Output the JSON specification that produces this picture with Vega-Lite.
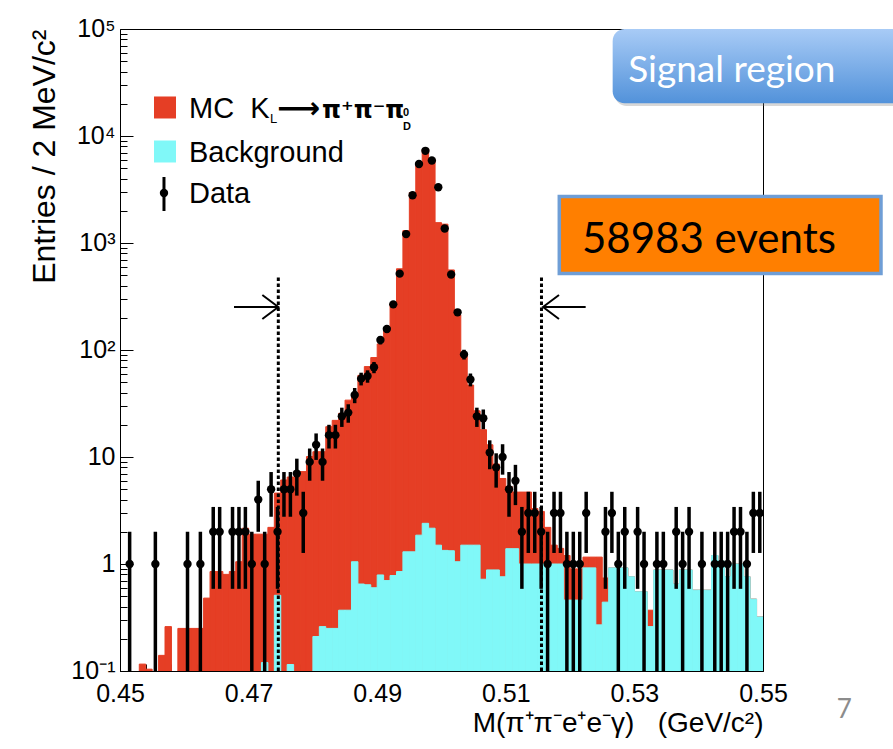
{
  "$schema": "https://vega.github.io/schema/vega-lite/v6.json",
  "width": 643,
  "height": 642,
  "autosize": {"type": "none"},
  "padding": {"left": 120, "top": 29, "right": 130, "bottom": 78},
  "background": "white",
  "view": {"stroke": "black", "strokeWidth": 1},
  "config": {
    "axis": {"grid": false, "domainColor": "black", "tickColor": "black", "labelColor": "black", "titleColor": "black", "labelFont": "Liberation Sans", "titleFont": "Liberation Sans", "titleFontWeight": "normal", "labelOverlap": false, "labelFlush": false, "labelBound": false}
  },
  "resolve": {"axis": {"x": "independent", "y": "independent"}},
  "datasets": {
    "bins": [
      {"lo":0.450,"hi":0.451,"m":0.4505,"mc":0,"bkg":0,"n":0,"elo":null,"ehi":null},
      {"lo":0.451,"hi":0.452,"m":0.4515,"mc":0,"bkg":0,"n":1,"elo":0.001,"ehi":2},
      {"lo":0.452,"hi":0.453,"m":0.4525,"mc":0,"bkg":0,"n":0,"elo":null,"ehi":null},
      {"lo":0.453,"hi":0.454,"m":0.4535,"mc":0.116,"bkg":0,"n":0,"elo":null,"ehi":null},
      {"lo":0.454,"hi":0.455,"m":0.4545,"mc":0.104,"bkg":0,"n":0,"elo":null,"ehi":null},
      {"lo":0.455,"hi":0.456,"m":0.4555,"mc":0,"bkg":0,"n":1,"elo":0.001,"ehi":2},
      {"lo":0.456,"hi":0.457,"m":0.4565,"mc":0.14,"bkg":0,"n":0,"elo":null,"ehi":null},
      {"lo":0.457,"hi":0.458,"m":0.4575,"mc":0.26,"bkg":0,"n":0,"elo":null,"ehi":null},
      {"lo":0.458,"hi":0.459,"m":0.4585,"mc":0,"bkg":0,"n":0,"elo":null,"ehi":null},
      {"lo":0.459,"hi":0.460,"m":0.4595,"mc":0.25,"bkg":0,"n":0,"elo":null,"ehi":null},
      {"lo":0.460,"hi":0.461,"m":0.4605,"mc":0.25,"bkg":0,"n":1,"elo":0.001,"ehi":2},
      {"lo":0.461,"hi":0.462,"m":0.4615,"mc":0.25,"bkg":0,"n":0,"elo":null,"ehi":null},
      {"lo":0.462,"hi":0.463,"m":0.4625,"mc":0.25,"bkg":0,"n":1,"elo":0.001,"ehi":2},
      {"lo":0.463,"hi":0.464,"m":0.4635,"mc":0.48,"bkg":0,"n":0,"elo":null,"ehi":null},
      {"lo":0.464,"hi":0.465,"m":0.4645,"mc":0.85,"bkg":0,"n":2,"elo":0.586,"ehi":3.414},
      {"lo":0.465,"hi":0.466,"m":0.4655,"mc":0.85,"bkg":0,"n":2,"elo":0.586,"ehi":3.414},
      {"lo":0.466,"hi":0.467,"m":0.4665,"mc":0.80,"bkg":0,"n":0,"elo":null,"ehi":null},
      {"lo":0.467,"hi":0.468,"m":0.4675,"mc":0.85,"bkg":0,"n":2,"elo":0.586,"ehi":3.414},
      {"lo":0.468,"hi":0.469,"m":0.4685,"mc":1.05,"bkg":0,"n":2,"elo":0.586,"ehi":3.414},
      {"lo":0.469,"hi":0.470,"m":0.4695,"mc":2.16,"bkg":0,"n":2,"elo":0.586,"ehi":3.414},
      {"lo":0.470,"hi":0.471,"m":0.4705,"mc":1.9,"bkg":0,"n":1,"elo":0.001,"ehi":2},
      {"lo":0.471,"hi":0.472,"m":0.4715,"mc":1.9,"bkg":0,"n":4,"elo":2,"ehi":6},
      {"lo":0.472,"hi":0.473,"m":0.4725,"mc":1.9,"bkg":0.12,"n":1,"elo":0.001,"ehi":2},
      {"lo":0.473,"hi":0.474,"m":0.4735,"mc":2.2,"bkg":0,"n":5,"elo":2.764,"ehi":7.236},
      {"lo":0.474,"hi":0.475,"m":0.4745,"mc":4.6,"bkg":0.51,"n":2,"elo":0.586,"ehi":3.414},
      {"lo":0.475,"hi":0.476,"m":0.4755,"mc":6.1,"bkg":0,"n":5,"elo":2.764,"ehi":7.236},
      {"lo":0.476,"hi":0.477,"m":0.4765,"mc":6.5,"bkg":0.115,"n":5,"elo":2.764,"ehi":7.236},
      {"lo":0.477,"hi":0.478,"m":0.4775,"mc":6.5,"bkg":0,"n":7,"elo":4.354,"ehi":9.646},
      {"lo":0.478,"hi":0.479,"m":0.4785,"mc":7.3,"bkg":0,"n":3,"elo":1.268,"ehi":4.732},
      {"lo":0.479,"hi":0.480,"m":0.4795,"mc":10.1,"bkg":0,"n":9,"elo":6,"ehi":12},
      {"lo":0.480,"hi":0.481,"m":0.4805,"mc":11.2,"bkg":0.21,"n":13,"elo":9.394,"ehi":16.606},
      {"lo":0.481,"hi":0.482,"m":0.4815,"mc":11.2,"bkg":0.26,"n":9,"elo":6,"ehi":12},
      {"lo":0.482,"hi":0.483,"m":0.4825,"mc":19.2,"bkg":0.25,"n":16,"elo":12,"ehi":20},
      {"lo":0.483,"hi":0.484,"m":0.4835,"mc":22,"bkg":0.25,"n":16,"elo":12,"ehi":20},
      {"lo":0.484,"hi":0.485,"m":0.4845,"mc":25.6,"bkg":0.37,"n":24,"elo":19.101,"ehi":28.899},
      {"lo":0.485,"hi":0.486,"m":0.4855,"mc":34,"bkg":0.37,"n":26,"elo":20.901,"ehi":31.099},
      {"lo":0.486,"hi":0.487,"m":0.4865,"mc":39,"bkg":1.05,"n":38,"elo":31.836,"ehi":44.164},
      {"lo":0.487,"hi":0.488,"m":0.4875,"mc":58,"bkg":0.65,"n":54,"elo":46.652,"ehi":61.348},
      {"lo":0.488,"hi":0.489,"m":0.4885,"mc":70,"bkg":0.64,"n":57,"elo":49.45,"ehi":64.55},
      {"lo":0.489,"hi":0.490,"m":0.4895,"mc":85,"bkg":0.6,"n":69,"elo":60.693,"ehi":77.307},
      {"lo":0.490,"hi":0.491,"m":0.4905,"mc":114,"bkg":0.79,"n":124,"elo":112.864,"ehi":135.136},
      {"lo":0.491,"hi":0.492,"m":0.4915,"mc":161,"bkg":0.7,"n":157,"elo":144.47,"ehi":169.53},
      {"lo":0.492,"hi":0.493,"m":0.4925,"mc":272,"bkg":0.78,"n":267,"elo":250.66,"ehi":283.34},
      {"lo":0.493,"hi":0.494,"m":0.4935,"mc":574,"bkg":0.85,"n":517,"elo":494.26,"ehi":539.74},
      {"lo":0.494,"hi":0.495,"m":0.4945,"mc":1306,"bkg":1.3,"n":1211,"elo":1176.2,"ehi":1245.8},
      {"lo":0.495,"hi":0.496,"m":0.4955,"mc":2965,"bkg":1.3,"n":2797,"elo":2744.11,"ehi":2849.89},
      {"lo":0.496,"hi":0.497,"m":0.4965,"mc":5475,"bkg":1.86,"n":5475,"elo":5401.01,"ehi":5548.99},
      {"lo":0.497,"hi":0.498,"m":0.4975,"mc":7560,"bkg":2.4,"n":7271,"elo":7185.73,"ehi":7356.27},
      {"lo":0.498,"hi":0.499,"m":0.4985,"mc":6030,"bkg":2.16,"n":5902,"elo":5825.18,"ehi":5978.82},
      {"lo":0.499,"hi":0.500,"m":0.4995,"mc":1550,"bkg":1.5,"n":3316,"elo":3258.42,"ehi":3373.58},
      {"lo":0.500,"hi":0.501,"m":0.5005,"mc":1500,"bkg":1.34,"n":1367,"elo":1330.03,"ehi":1403.97},
      {"lo":0.501,"hi":0.502,"m":0.5015,"mc":560,"bkg":1.33,"n":508,"elo":485.46,"ehi":530.54},
      {"lo":0.502,"hi":0.503,"m":0.5025,"mc":213,"bkg":1.05,"n":225,"elo":210,"ehi":240},
      {"lo":0.503,"hi":0.504,"m":0.5035,"mc":93,"bkg":1.5,"n":91,"elo":81.461,"ehi":100.539},
      {"lo":0.504,"hi":0.505,"m":0.5045,"mc":47,"bkg":1.5,"n":53,"elo":45.72,"ehi":60.28},
      {"lo":0.505,"hi":0.506,"m":0.5055,"mc":27,"bkg":1.5,"n":24,"elo":19.101,"ehi":28.899},
      {"lo":0.506,"hi":0.507,"m":0.5065,"mc":18,"bkg":0.72,"n":23,"elo":18.204,"ehi":27.796},
      {"lo":0.507,"hi":0.508,"m":0.5075,"mc":13,"bkg":0.88,"n":11,"elo":7.683,"ehi":14.317},
      {"lo":0.508,"hi":0.509,"m":0.5085,"mc":8.6,"bkg":0.88,"n":8,"elo":5.172,"ehi":10.828},
      {"lo":0.509,"hi":0.510,"m":0.5095,"mc":6.3,"bkg":0.76,"n":10,"elo":6.838,"ehi":13.162},
      {"lo":0.510,"hi":0.511,"m":0.5105,"mc":5.3,"bkg":1.39,"n":5,"elo":2.764,"ehi":7.236},
      {"lo":0.511,"hi":0.512,"m":0.5115,"mc":4.7,"bkg":1.39,"n":6,"elo":3.551,"ehi":8.449},
      {"lo":0.512,"hi":0.513,"m":0.5125,"mc":4.7,"bkg":1.0,"n":2,"elo":0.586,"ehi":3.414},
      {"lo":0.513,"hi":0.514,"m":0.5135,"mc":4.7,"bkg":1.0,"n":3,"elo":1.268,"ehi":4.732},
      {"lo":0.514,"hi":0.515,"m":0.5145,"mc":3.3,"bkg":1.0,"n":3,"elo":1.268,"ehi":4.732},
      {"lo":0.515,"hi":0.516,"m":0.5155,"mc":3.1,"bkg":1.0,"n":2,"elo":0.586,"ehi":3.414},
      {"lo":0.516,"hi":0.517,"m":0.5165,"mc":2.2,"bkg":1.0,"n":1,"elo":0.001,"ehi":2},
      {"lo":0.517,"hi":0.518,"m":0.5175,"mc":1.5,"bkg":1.0,"n":3,"elo":1.268,"ehi":4.732},
      {"lo":0.518,"hi":0.519,"m":0.5185,"mc":1.4,"bkg":1.0,"n":3,"elo":1.268,"ehi":4.732},
      {"lo":0.519,"hi":0.520,"m":0.5195,"mc":1.2,"bkg":0.46,"n":1,"elo":0.001,"ehi":2},
      {"lo":0.520,"hi":0.521,"m":0.5205,"mc":0.9,"bkg":0.46,"n":1,"elo":0.001,"ehi":2},
      {"lo":0.521,"hi":0.522,"m":0.5215,"mc":0.9,"bkg":0.46,"n":1,"elo":0.001,"ehi":2},
      {"lo":0.522,"hi":0.523,"m":0.5225,"mc":1.16,"bkg":0.92,"n":3,"elo":1.268,"ehi":4.732},
      {"lo":0.523,"hi":0.524,"m":0.5235,"mc":1.16,"bkg":0.92,"n":0,"elo":null,"ehi":null},
      {"lo":0.524,"hi":0.525,"m":0.5245,"mc":1.16,"bkg":0.27,"n":0,"elo":null,"ehi":null},
      {"lo":0.525,"hi":0.526,"m":0.5255,"mc":0.74,"bkg":0.44,"n":2,"elo":0.586,"ehi":3.414},
      {"lo":0.526,"hi":0.527,"m":0.5265,"mc":0.92,"bkg":0.92,"n":3,"elo":1.268,"ehi":4.732},
      {"lo":0.527,"hi":0.528,"m":0.5275,"mc":0.92,"bkg":0.92,"n":1,"elo":0.001,"ehi":2},
      {"lo":0.528,"hi":0.529,"m":0.5285,"mc":0.92,"bkg":0.92,"n":2,"elo":0.586,"ehi":3.414},
      {"lo":0.529,"hi":0.530,"m":0.5295,"mc":0.76,"bkg":0.76,"n":0,"elo":null,"ehi":null},
      {"lo":0.530,"hi":0.531,"m":0.5305,"mc":0.55,"bkg":0.55,"n":2,"elo":0.586,"ehi":3.414},
      {"lo":0.531,"hi":0.532,"m":0.5315,"mc":0.55,"bkg":0.55,"n":1,"elo":0.001,"ehi":2},
      {"lo":0.532,"hi":0.533,"m":0.5325,"mc":0.37,"bkg":0.26,"n":0,"elo":null,"ehi":null},
      {"lo":0.533,"hi":0.534,"m":0.5335,"mc":0.88,"bkg":0.88,"n":1,"elo":0.001,"ehi":2},
      {"lo":0.534,"hi":0.535,"m":0.5345,"mc":0.88,"bkg":0.88,"n":1,"elo":0.001,"ehi":2},
      {"lo":0.535,"hi":0.536,"m":0.5355,"mc":0.88,"bkg":0.88,"n":0,"elo":null,"ehi":null},
      {"lo":0.536,"hi":0.537,"m":0.5365,"mc":0.65,"bkg":0.65,"n":2,"elo":0.586,"ehi":3.414},
      {"lo":0.537,"hi":0.538,"m":0.5375,"mc":0.88,"bkg":0.88,"n":1,"elo":0.001,"ehi":2},
      {"lo":0.538,"hi":0.539,"m":0.5385,"mc":0.88,"bkg":0.88,"n":2,"elo":0.586,"ehi":3.414},
      {"lo":0.539,"hi":0.540,"m":0.5395,"mc":0.57,"bkg":0.57,"n":0,"elo":null,"ehi":null},
      {"lo":0.540,"hi":0.541,"m":0.5405,"mc":0.57,"bkg":0.57,"n":1,"elo":0.001,"ehi":2},
      {"lo":0.541,"hi":0.542,"m":0.5415,"mc":0.57,"bkg":0.57,"n":0,"elo":null,"ehi":null},
      {"lo":0.542,"hi":0.543,"m":0.5425,"mc":1.2,"bkg":1.2,"n":1,"elo":0.001,"ehi":2},
      {"lo":0.543,"hi":0.544,"m":0.5435,"mc":1.07,"bkg":1.07,"n":1,"elo":0.001,"ehi":2},
      {"lo":0.544,"hi":0.545,"m":0.5445,"mc":0.76,"bkg":0.76,"n":1,"elo":0.001,"ehi":2},
      {"lo":0.545,"hi":0.546,"m":0.5455,"mc":1.0,"bkg":1.0,"n":2,"elo":0.586,"ehi":3.414},
      {"lo":0.546,"hi":0.547,"m":0.5465,"mc":1.0,"bkg":1.0,"n":2,"elo":0.586,"ehi":3.414},
      {"lo":0.547,"hi":0.548,"m":0.5475,"mc":0.76,"bkg":0.76,"n":1,"elo":0.001,"ehi":2},
      {"lo":0.548,"hi":0.549,"m":0.5485,"mc":0.47,"bkg":0.47,"n":3,"elo":1.268,"ehi":4.732},
      {"lo":0.549,"hi":0.550,"m":0.5495,"mc":0.32,"bkg":0.32,"n":3,"elo":1.268,"ehi":4.732}
    ]
  },
  "data": {"name": "bins"},
  "layer": [
    {
      "transform": [{"filter": "datum.mc > 0"}],
      "mark": {"type": "rect", "color": "#E53E25", "stroke": "#E53E25", "strokeWidth": 1, "clip": true},
      "encoding": {
        "x": {
          "field": "lo", "type": "quantitative",
          "scale": {"domain": [0.45, 0.55], "nice": false, "zero": false},
          "axis": {
            "orient": "bottom",
            "values": [0.45, 0.47, 0.49, 0.51, 0.53, 0.55],
            "format": ".2f",
            "tickSize": -13,
            "tickWidth": 1,
            "labelFontSize": 25,
            "labelPadding": 23,
            "title": "M(π⁺π⁻e⁺e⁻γ)\u00a0\u00a0\u00a0(GeV/c²)",
            "titleFontSize": 28,
            "titleAnchor": "end",
            "titleAlign": "right",
            "titlePadding": 3
          }
        },
        "x2": {"field": "hi"},
        "y": {
          "field": "mc", "type": "quantitative",
          "scale": {"type": "log", "domain": [0.1, 100000], "nice": false},
          "axis": {
            "orient": "left",
            "values": [0.1, 1, 10, 100, 1000, 10000, 100000],
            "labelExpr": "datum.value == 100000 ? '10⁵' : datum.value == 10000 ? '10⁴' : datum.value == 1000 ? '10³' : datum.value == 100 ? '10²' : datum.value == 10 ? '10' : datum.value == 1 ? '1' : '10⁻¹'",
            "tickSize": -13,
            "tickWidth": 1,
            "labelFontSize": 25,
            "labelPadding": 18,
            "labelOffset": -1,
            "title": "Entries / 2 MeV/c²",
            "titleFontSize": 32,
            "titleAnchor": "end",
            "titlePadding": 9
          }
        },
        "y2": {"datum": 0.1}
      }
    },
    {
      "transform": [{"filter": "datum.bkg > 0"}],
      "mark": {"type": "rect", "color": "#80F8F8", "stroke": "#80F8F8", "strokeWidth": 1, "clip": true},
      "encoding": {
        "x": {
          "field": "lo", "type": "quantitative",
          "axis": {
            "orient": "bottom",
            "values": [0.454, 0.458, 0.462, 0.466, 0.474, 0.478, 0.482, 0.486, 0.494, 0.498, 0.502, 0.506, 0.514, 0.518, 0.522, 0.526, 0.534, 0.538, 0.542, 0.546],
            "labels": false, "domain": false, "title": null,
            "tickSize": -7, "tickWidth": 1
          }
        },
        "x2": {"field": "hi"},
        "y": {
          "field": "bkg", "type": "quantitative",
          "axis": {
            "orient": "left",
            "values": [0.2, 0.3, 0.4, 0.5, 0.6, 0.7, 0.8, 0.9, 2, 3, 4, 5, 6, 7, 8, 9, 20, 30, 40, 50, 60, 70, 80, 90, 200, 300, 400, 500, 600, 700, 800, 900, 2000, 3000, 4000, 5000, 6000, 7000, 8000, 9000, 20000, 30000, 40000, 50000, 60000, 70000, 80000, 90000],
            "labels": false, "domain": false, "title": null,
            "tickSize": -7, "tickWidth": 1
          }
        },
        "y2": {"datum": 0.1}
      }
    },
    {
      "data": {"values": [{}]},
      "mark": {"type": "rule", "color": "black", "strokeWidth": 3, "strokeDash": [3.5, 2.5]},
      "encoding": {"x": {"datum": 0.47462, "axis": null}, "y": {"datum": 0.1, "axis": null}, "y2": {"datum": 502}}
    },
    {
      "data": {"values": [{}]},
      "mark": {"type": "rule", "color": "black", "strokeWidth": 3, "strokeDash": [3.5, 2.5]},
      "encoding": {"x": {"datum": 0.51555, "axis": null}, "y": {"datum": 0.1, "axis": null}, "y2": {"datum": 502}}
    },
    {
      "data": {"values": [{}]},
      "mark": {"type": "rule", "color": "black", "strokeWidth": 2},
      "encoding": {"x": {"datum": 0.46773, "axis": null}, "x2": {"datum": 0.47462}, "y": {"datum": 252.3, "axis": null}}
    },
    {
      "data": {"values": [{}]},
      "mark": {"type": "point", "shape": "M-1.33,-1L0,0L-1.33,1", "filled": false, "size": 576, "color": "black", "strokeWidth": 2, "opacity": 1},
      "encoding": {"x": {"datum": 0.47462, "axis": null}, "y": {"datum": 252.3, "axis": null}}
    },
    {
      "data": {"values": [{}]},
      "mark": {"type": "rule", "color": "black", "strokeWidth": 2},
      "encoding": {"x": {"datum": 0.51579, "axis": null}, "x2": {"datum": 0.52242}, "y": {"datum": 252.3, "axis": null}}
    },
    {
      "data": {"values": [{}]},
      "mark": {"type": "point", "shape": "M1.33,-1L0,0L1.33,1", "filled": false, "size": 576, "color": "black", "strokeWidth": 2, "opacity": 1},
      "encoding": {"x": {"datum": 0.51579, "axis": null}, "y": {"datum": 252.3, "axis": null}}
    },
    {
      "transform": [{"filter": "datum.n > 0"}],
      "mark": {"type": "rule", "color": "black", "strokeWidth": 3.5, "clip": true},
      "encoding": {
        "x": {"field": "m", "type": "quantitative", "axis": null},
        "y": {"field": "elo", "type": "quantitative", "axis": null},
        "y2": {"field": "ehi"}
      }
    },
    {
      "transform": [{"filter": "datum.n > 0"}],
      "mark": {"type": "circle", "color": "black", "size": 70, "opacity": 1, "clip": true},
      "encoding": {
        "x": {"field": "m", "type": "quantitative", "axis": null},
        "y": {"field": "n", "type": "quantitative", "axis": null}
      }
    },
    {
      "data": {"values": [{}]},
      "mark": {"type": "point", "shape": "square", "filled": true, "size": 484, "color": "#E53E25", "opacity": 1},
      "encoding": {"x": {"datum": 0.457, "axis": null}, "y": {"datum": 18470, "axis": null}}
    },
    {
      "data": {"values": [{}]},
      "mark": {"type": "point", "shape": "square", "filled": true, "size": 484, "color": "#80F8F8", "opacity": 1},
      "encoding": {"x": {"datum": 0.457, "axis": null}, "y": {"datum": 7164, "axis": null}}
    },
    {
      "data": {"values": [{}]},
      "mark": {"type": "rule", "color": "black", "strokeWidth": 3},
      "encoding": {"x": {"datum": 0.45684, "axis": null}, "y": {"datum": 1991, "axis": null}, "y2": {"datum": 4139}}
    },
    {
      "data": {"values": [{}]},
      "mark": {"type": "circle", "color": "black", "size": 70, "opacity": 1},
      "encoding": {"x": {"datum": 0.45684, "axis": null}, "y": {"datum": 2934, "axis": null}}
    },
    {
      "data": {"values": [{}]},
      "mark": {"type": "text", "text": "MC\u00a0\u00a0K", "font": "Liberation Sans", "fontSize": 29, "align": "left", "baseline": "alphabetic", "color": "black"},
      "encoding": {"x": {"datum": 0.46073, "axis": null}, "y": {"datum": 14637, "axis": null}}
    },
    {
      "data": {"values": [{}]},
      "mark": {"type": "text", "text": "L", "font": "Liberation Sans", "fontSize": 13, "align": "left", "baseline": "alphabetic", "color": "black"},
      "encoding": {"x": {"datum": 0.47333, "axis": null}, "y": {"datum": 13228, "axis": null}}
    },
    {
      "data": {"values": [{}]},
      "mark": {"type": "text", "text": "⟶", "font": "DejaVu Sans", "fontSize": 30, "fontWeight": "bold", "align": "left", "baseline": "alphabetic", "color": "black"},
      "encoding": {"x": {"datum": 0.47442, "axis": null}, "y": {"datum": 14637, "axis": null}}
    },
    {
      "data": {"values": [{}]},
      "mark": {"type": "text", "text": "π⁺π⁻π", "font": "DejaVu Sans", "fontSize": 24, "fontWeight": "bold", "align": "left", "baseline": "alphabetic", "color": "black"},
      "encoding": {"x": {"datum": 0.48142, "axis": null}, "y": {"datum": 14637, "axis": null}}
    },
    {
      "data": {"values": [{}]},
      "mark": {"type": "text", "text": "0", "font": "Liberation Sans", "fontSize": 11, "fontWeight": "bold", "align": "left", "baseline": "alphabetic", "color": "black"},
      "encoding": {"x": {"datum": 0.49401, "axis": null}, "y": {"datum": 15379, "axis": null}}
    },
    {
      "data": {"values": [{}]},
      "mark": {"type": "text", "text": "D", "font": "Liberation Sans", "fontSize": 11, "fontWeight": "bold", "align": "left", "baseline": "alphabetic", "color": "black"},
      "encoding": {"x": {"datum": 0.49401, "axis": null}, "y": {"datum": 11380, "axis": null}}
    },
    {
      "data": {"values": [{}]},
      "mark": {"type": "text", "text": "Background", "font": "Liberation Sans", "fontSize": 29, "align": "left", "baseline": "alphabetic", "color": "black"},
      "encoding": {"x": {"datum": 0.46073, "axis": null}, "y": {"datum": 5752, "axis": null}}
    },
    {
      "data": {"values": [{}]},
      "mark": {"type": "text", "text": "Data", "font": "Liberation Sans", "fontSize": 29, "align": "left", "baseline": "alphabetic", "color": "black"},
      "encoding": {"x": {"datum": 0.46073, "axis": null}, "y": {"datum": 2350, "axis": null}}
    },
    {
      "data": {"values": [{}]},
      "mark": {"type": "rect", "cornerRadius": 12, "color": "#7A7A7A", "opacity": 0.3},
      "encoding": {"x": {"datum": 0.52693, "axis": null}, "x2": {"datum": 0.58}, "y": {"datum": 85000, "axis": null}, "y2": {"datum": 19070}}
    },
    {
      "data": {"values": [{}]},
      "mark": {"type": "rect", "cornerRadius": 12, "fill": {"gradient": "linear", "x1": 0, "y1": 0, "x2": 0, "y2": 1, "stops": [{"offset": 0, "color": "#A8CBF6"}, {"offset": 1, "color": "#5292DA"}]}},
      "encoding": {"x": {"datum": 0.52662, "axis": null}, "x2": {"datum": 0.58}, "y": {"datum": 100000, "axis": null}, "y2": {"datum": 20210}}
    },
    {
      "data": {"values": [{}]},
      "mark": {"type": "text", "text": "Signal region", "font": "Lato", "fontSize": 37, "align": "left", "baseline": "alphabetic", "color": "white"},
      "encoding": {"x": {"datum": 0.52903, "axis": null}, "y": {"datum": 32170, "axis": null}}
    },
    {
      "data": {"values": [{}]},
      "mark": {"type": "rect", "fill": "#FF7F00", "stroke": "#6F9ED6", "strokeWidth": 3.5},
      "encoding": {"x": {"datum": 0.51832, "axis": null}, "x2": {"datum": 0.56835}, "y": {"datum": 2720, "axis": null}, "y2": {"datum": 518.9}}
    },
    {
      "data": {"values": [{}]},
      "mark": {"type": "text", "text": "58983 events", "font": "Lato", "fontSize": 42, "align": "left", "baseline": "alphabetic", "color": "black"},
      "encoding": {"x": {"datum": 0.52185, "axis": null}, "y": {"datum": 801, "axis": null}}
    },
    {
      "data": {"values": [{}]},
      "mark": {"type": "text", "text": "7", "font": "Lato", "fontSize": 26, "align": "left", "baseline": "alphabetic", "color": "#8C8C8C"},
      "encoding": {"x": {"datum": 0.56146, "axis": null}, "y": {"datum": 0.03636, "axis": null}}
    }
  ]
}
